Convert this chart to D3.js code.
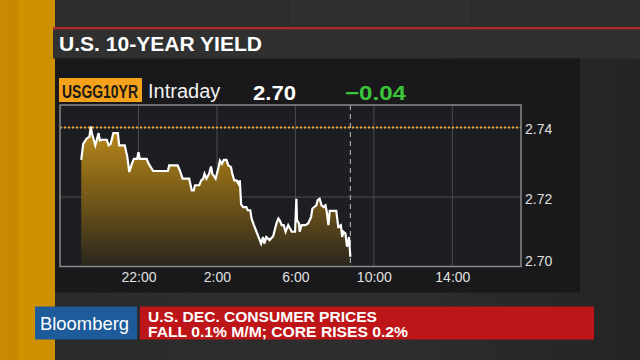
<!DOCTYPE html>
<html>
<head>
<meta charset="utf-8">
<script src="https://cdn.jsdelivr.net/npm/d3@7/dist/d3.min.js"></script>
<style>
  html, body { margin: 0; padding: 0; background: #262626; }
  svg { display: block; }
</style>
</head>
<body>
<svg id="chart" width="640" height="360"></svg>
<script>
// ---- Data ----
const times = ["19:05","19:11","19:21","19:30","19:34","19:38","19:44","19:48","19:52","19:58",
  "20:02","20:08","20:23","20:29","20:35","20:43","20:57","21:01","21:18","21:26",
  "21:32","21:40","21:46","21:56","22:00","22:04","22:25","22:31","22:45","23:30",
  "23:34","00:00","00:07","00:15","00:35","00:43","00:49","00:53","01:06","01:12",
  "01:18","01:22","01:28","01:36","01:42","01:46","01:56","02:05","02:09","02:15",
  "02:21","02:29","02:35","02:43","02:47","02:53","03:00","03:06","03:10","03:14",
  "03:20","03:30","03:34","03:42","03:46","03:53","04:01","04:11","04:15","04:21",
  "04:25","04:31","04:41","04:52","05:02","05:08","05:12","05:18","05:24","05:30",
  "05:38","05:49","05:59","06:03","06:05","06:11","06:13","06:19","06:31","06:39",
  "06:48","06:52","07:04","07:08","07:14","07:20","07:26","07:32","07:36","07:41",
  "07:45","08:05","08:11","08:19","08:23","08:27","08:33","08:38","08:44","08:48"];
const yields = [2.7307,2.7353,2.7368,2.7374,2.7403,2.7382,2.7363,2.7349,2.7363,2.7384,
  2.7363,2.7365,2.7365,2.7349,2.7353,2.7384,2.7384,2.7349,2.7349,2.7315,
  2.7272,2.7296,2.7310,2.7310,2.7329,2.7310,2.7310,2.7296,2.7275,2.7275,
  2.7291,2.7291,2.7275,2.7253,2.7253,2.7219,2.7219,2.7234,2.7234,2.7248,
  2.7253,2.7267,2.7253,2.7267,2.7288,2.7267,2.7253,2.7286,2.7305,2.7296,
  2.7307,2.7307,2.7291,2.7286,2.7267,2.7248,2.7248,2.7238,2.7248,2.7179,
  2.7171,2.7171,2.7162,2.7162,2.7138,2.7119,2.7100,2.7076,2.7066,2.7085,
  2.7066,2.7085,2.7076,2.7087,2.7124,2.7138,2.7133,2.7119,2.7119,2.7100,
  2.7119,2.7100,2.7100,2.7195,2.7133,2.7124,2.7100,2.7119,2.7119,2.7124,
  2.7143,2.7167,2.7176,2.7191,2.7195,2.7176,2.7171,2.7176,2.7157,2.7119,
  2.7160,2.7160,2.7114,2.7119,2.7085,2.7100,2.7095,2.7057,2.7085,2.7028];
const xTickLabels = ["22:00","2:00","6:00","10:00","14:00"];
const yTickValues = [2.70, 2.72, 2.74];
const prevClose = 2.74;
const lastTime = "08:48";
const domainStart = "18:00";
const domainEnd = "17:30";
const ticker = "USGG10YR";
const periodLabel = "Intraday";
const lastValueLabel = "2.70";
const changeLabel = "\u22120.04";
const title = "U.S. 10-YEAR YIELD";
const brand = "Bloomberg";
const headline = ["U.S. DEC. CONSUMER PRICES", "FALL 0.1% M/M; CORE RISES 0.2%"];

// ---- helpers ----
function toDate(s) {
  const [h, m] = s.split(":").map(Number);
  const day = h >= 18 ? 10 : 11;
  return new Date(2018, 0, day, h, m);
}
const data = times.map((t, i) => ({ t: toDate(t), v: yields[i] }));
const FONT = "Liberation Sans, Arial, sans-serif";

const svg = d3.select("#chart");
const defs = svg.append("defs");

const bg = defs.append("linearGradient").attr("id", "bg").attr("x1", 0).attr("x2", 1).attr("y1", 0).attr("y2", 0);
bg.append("stop").attr("offset", "0%").attr("stop-color", "#2a2a2a");
bg.append("stop").attr("offset", "60%").attr("stop-color", "#2e2e2e");
bg.append("stop").attr("offset", "100%").attr("stop-color", "#242424");

const orange = defs.append("linearGradient").attr("id", "orange").attr("x1", 0).attr("x2", 1).attr("y1", 0).attr("y2", 0);
orange.append("stop").attr("offset", "0%").attr("stop-color", "#c98b00");
orange.append("stop").attr("offset", "30%").attr("stop-color", "#c48700");
orange.append("stop").attr("offset", "35%").attr("stop-color", "#d09100");
orange.append("stop").attr("offset", "100%").attr("stop-color", "#cf9000");

const area = defs.append("linearGradient").attr("id", "areaGrad")
  .attr("gradientUnits", "userSpaceOnUse").attr("x1", 0).attr("x2", 0).attr("y1", 125).attr("y2", 266);
area.append("stop").attr("offset", "0%").attr("stop-color", "#bc8c1c");
area.append("stop").attr("offset", "45%").attr("stop-color", "#7e5f18");
area.append("stop").attr("offset", "100%").attr("stop-color", "#2a261d");

// page background
svg.append("rect").attr("width", 640).attr("height", 360).attr("fill", "url(#bg)");
svg.append("rect").attr("x", 0).attr("y", 0).attr("width", 640).attr("height", 28).attr("fill", "#2c2c2c");
svg.append("rect").attr("x", 290).attr("y", 0).attr("width", 180).attr("height", 28).attr("fill", "#323232").attr("opacity", 0.6);

// orange strip
svg.append("rect").attr("x", 0).attr("y", 0).attr("width", 55).attr("height", 360).attr("fill", "url(#orange)");

// red rule & title bar
svg.append("rect").attr("x", 53).attr("y", 27).attr("width", 587).attr("height", 2.5).attr("fill", "#b3262a");
svg.append("rect").attr("x", 53).attr("y", 29.5).attr("width", 587).attr("height", 29).attr("fill", "#303031");
svg.append("text").attr("x", 59).attr("y", 50.5)
  .attr("font-family", FONT).attr("font-weight", "bold")
  .attr("font-size", 20).attr("fill", "#ffffff")
  .attr("textLength", 203).attr("lengthAdjust", "spacingAndGlyphs").text(title);

// panel
svg.append("rect").attr("x", 55).attr("y", 58.5).attr("width", 525).attr("height", 234).attr("fill", "#19191b");

// header row
svg.append("rect").attr("x", 59).attr("y", 78).attr("width", 83).attr("height", 24).attr("fill", "#f4a11c");
svg.append("text").attr("transform", "translate(62,98) scale(1,1.35)")
  .attr("font-family", FONT).attr("font-weight", "bold")
  .attr("font-size", 14).attr("fill", "#1d1a14")
  .attr("textLength", 76).attr("lengthAdjust", "spacingAndGlyphs").text(ticker);
svg.append("text").attr("x", 148).attr("y", 98)
  .attr("font-family", FONT)
  .attr("font-size", 20).attr("fill", "#f2f2f2").text(periodLabel);
svg.append("text").attr("x", 253).attr("y", 99.5)
  .attr("font-family", FONT).attr("font-weight", "bold")
  .attr("font-size", 21).attr("fill", "#ffffff")
  .attr("textLength", 43).attr("lengthAdjust", "spacingAndGlyphs").text(lastValueLabel);
svg.append("text").attr("x", 345).attr("y", 99.5)
  .attr("font-family", FONT).attr("font-weight", "bold")
  .attr("font-size", 21).attr("fill", "#3cc43a")
  .attr("textLength", 61).attr("lengthAdjust", "spacingAndGlyphs").text(changeLabel);

// ---- chart ----
const plot = { left: 60, right: 521, top: 105, bottom: 266.5 };
const x = d3.scaleTime().domain([toDate(domainStart), toDate(domainEnd)]).range([plot.left, plot.right]);
const y = d3.scaleLinear().domain([2.70, 2.7465]).range([plot.bottom, plot.top]);

svg.append("rect").attr("x", plot.left).attr("y", plot.top)
  .attr("width", plot.right - plot.left).attr("height", plot.bottom - plot.top).attr("fill", "#1d1e21");

const xTickDates = xTickLabels.map(toDate);
svg.append("g").selectAll("line").data(xTickDates).join("line")
  .attr("x1", d => x(d)).attr("x2", d => x(d)).attr("y1", plot.top).attr("y2", plot.bottom)
  .attr("stroke", "#4a4b4e").attr("stroke-width", 1);
svg.append("g").selectAll("line").data(yTickValues).join("line")
  .attr("x1", plot.left).attr("x2", plot.right).attr("y1", d => y(d)).attr("y2", d => y(d))
  .attr("stroke", "#4a4b4e").attr("stroke-width", 1);

const areaGen = d3.area().x(d => x(d.t)).y0(plot.bottom).y1(d => y(d.v));
const lineGen = d3.line().x(d => x(d.t)).y(d => y(d.v));
svg.append("path").datum(data).attr("d", areaGen).attr("fill", "url(#areaGrad)");

svg.append("line").attr("x1", x(toDate(lastTime))).attr("x2", x(toDate(lastTime)))
  .attr("y1", plot.top).attr("y2", plot.bottom)
  .attr("stroke", "#bdbdbd").attr("stroke-width", 1).attr("stroke-dasharray", "5,4");

svg.append("path").datum(data).attr("d", lineGen)
  .attr("fill", "none").attr("stroke", "#ffffff").attr("stroke-width", 2.2).attr("stroke-linejoin", "miter");

svg.append("line").attr("x1", plot.left).attr("x2", plot.right)
  .attr("y1", y(prevClose)).attr("y2", y(prevClose))
  .attr("stroke", "#f2a623").attr("stroke-width", 2).attr("stroke-dasharray", "2,2");

svg.append("rect").attr("x", plot.left).attr("y", plot.top)
  .attr("width", plot.right - plot.left).attr("height", plot.bottom - plot.top)
  .attr("fill", "none").attr("stroke", "#8a8a8c").attr("stroke-width", 1.5);

// x axis
const xAxis = d3.axisBottom(x).tickValues(xTickDates).tickSize(0).tickPadding(0)
  .tickFormat((d, i) => xTickLabels[i]);
const gx = svg.append("g").attr("transform", `translate(0,${plot.bottom + 5})`).call(xAxis);
gx.select(".domain").remove();
gx.selectAll("text").attr("font-family", FONT)
  .attr("font-size", 14).attr("fill", "#e0e0e0").attr("dy", "0.78em");

// y axis (right side)
const yAxis = d3.axisRight(y).tickValues(yTickValues).tickSize(0).tickPadding(0)
  .tickFormat(d3.format(".2f"));
const gy = svg.append("g").attr("transform", `translate(${plot.right + 4},0)`).call(yAxis);
gy.select(".domain").remove();
gy.selectAll("text").attr("font-family", FONT)
  .attr("font-size", 14).attr("fill", "#e0e0e0")
  .attr("dy", d => (d === 2.70 ? "-0.05em" : "0.45em"));

// ---- bottom banner ----
svg.append("rect").attr("x", 35).attr("y", 306.5).attr("width", 102).attr("height", 33).attr("fill", "#1d5b9b");
svg.append("text").attr("x", 40).attr("y", 329.5)
  .attr("font-family", FONT)
  .attr("font-size", 19).attr("fill", "#ffffff")
  .attr("textLength", 89).attr("lengthAdjust", "spacingAndGlyphs").text(brand);
svg.append("rect").attr("x", 140).attr("y", 306.5).attr("width", 454).attr("height", 33).attr("fill", "#bd1518");
svg.append("text").attr("x", 148).attr("y", 321.5)
  .attr("font-family", FONT).attr("font-weight", "bold")
  .attr("font-size", 14).attr("fill", "#ffffff")
  .attr("textLength", 229).attr("lengthAdjust", "spacingAndGlyphs").text(headline[0]);
svg.append("text").attr("x", 148).attr("y", 336.5)
  .attr("font-family", FONT).attr("font-weight", "bold")
  .attr("font-size", 14).attr("fill", "#ffffff")
  .attr("textLength", 260).attr("lengthAdjust", "spacingAndGlyphs").text(headline[1]);
</script>
</body>
</html>
